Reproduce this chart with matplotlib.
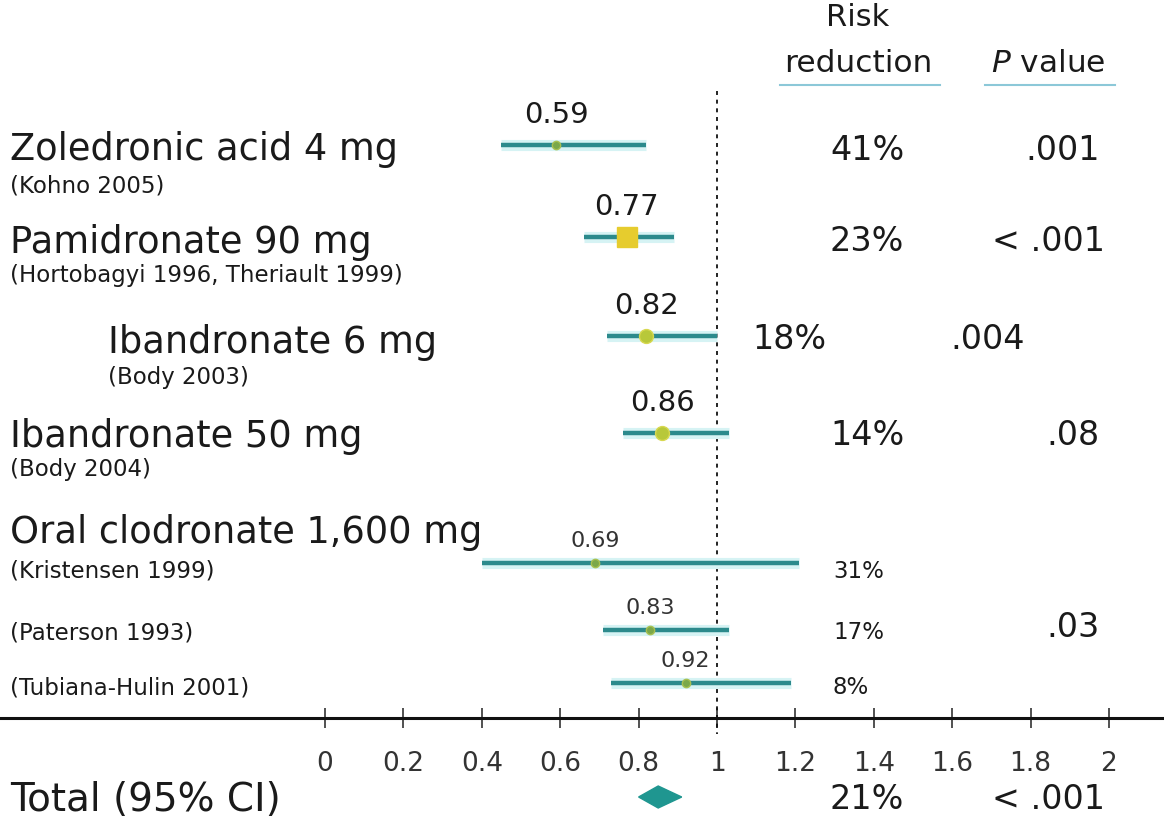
import matplotlib
matplotlib.use("Agg")
import matplotlib.pyplot as plt

plt.rcParams['font.family'] = ['DejaVu Sans']

# study rows
drugs = ["Zoledronic acid 4 mg", "Pamidronate 90 mg", "Ibandronate 6 mg",
         "Ibandronate 50 mg", "Oral clodronate 1,600 mg", "", ""]
refs = ["(Kohno 2005)", "(Hortobagyi 1996, Theriault 1999)", "(Body 2003)",
        "(Body 2004)", "(Kristensen 1999)", "(Paterson 1993)", "(Tubiana-Hulin 2001)"]
estimate = [0.59, 0.77, 0.82, 0.86, 0.69, 0.83, 0.92]
ci_low = [0.45, 0.66, 0.72, 0.76, 0.40, 0.71, 0.73]
ci_high = [0.82, 0.89, 1.00, 1.03, 1.21, 1.03, 1.19]
risk_red = ["41%", "23%", "18%", "14%", "31%", "17%", "8%"]
p_values = [".001", "< .001", ".004", ".08", "", ".03", ""]

total_est = 0.85
total_low = 0.80
total_high = 0.91
total_rr = "21%"
total_p = "< .001"

xticks = [0, 0.2, 0.4, 0.6, 0.8, 1, 1.2, 1.4, 1.6, 1.8, 2]

# layout (pixel rows from top)
row_y = [146, 238, 337, 434, 564, 631, 684]
big_row = [True, True, True, True, False, False, False]
title_dy = [4, 5, 6, 3, -31, 0, 0]
ref_dy = [40, 38, 41, 36, 7, 2, 4]
rr_dy = [4, 4, 3, 2, 8, 2, 4]

teal = "#2c8a8c"
txt = "#1a1a1a"

fig = plt.figure(figsize=(11.64, 8.2), dpi=100)
ax = fig.add_axes([0, 101 / 820, 1, 719 / 820])
ax.set_xlim(-325 / 392, 839 / 392)
ax.set_ylim(719, 0)
for s in ["top", "left", "right"]:
    ax.spines[s].set_visible(False)
ax.spines["bottom"].set_linewidth(2.2)
ax.spines["bottom"].set_color("#111111")
ax.set_yticks([])
ax.set_xticks(xticks)
ax.set_xticklabels([f"{t:g}" for t in xticks])
ax.tick_params(axis="x", direction="inout", length=14, width=1.1,
               pad=16, labelsize=19, labelcolor="#333333", color="#222222")

# reference line at 1
ax.plot([1, 1], [92, 735], color="#111111", lw=1.3, ls=(0, (2.2, 2.6)), clip_on=False)

for i in range(len(estimate)):
    y = row_y[i]
    ax.plot([ci_low[i], ci_high[i]], [y, y], color="#d6f3f4", lw=8,
            solid_capstyle="butt", zorder=2)
    ax.plot([ci_low[i], ci_high[i]], [y, y], color=teal, lw=3.2,
            solid_capstyle="butt", zorder=3)
    if i == 1:
        ax.plot(estimate[i], y, marker="s", ms=15, color="#e6cc2e", mec="#e6cc2e", zorder=4)
    elif i in (2, 3):
        ax.plot(estimate[i], y, marker="o", ms=10, color="#b8c83a", mec="#d8d850", zorder=4)
    else:
        ax.plot(estimate[i], y, marker="o", ms=6, color="#7aa84a", mec="#a8c050", zorder=4)
    if big_row[i]:
        ax.text(estimate[i], y - 17, f"{estimate[i]:.2f}", ha="center", va="bottom",
                fontsize=21, color=txt)
    else:
        ax.text(estimate[i], y - 13, f"{estimate[i]:.2f}", ha="center", va="bottom",
                fontsize=16, color="#333333")

# left labels
label_x = [10, 10, 108, 10, 10, 10, 10]
px = lambda p: (p - 325) / 392
for i in range(len(drugs)):
    x = px(label_x[i])
    y = row_y[i]
    if drugs[i]:
        ax.text(x, y + title_dy[i], drugs[i], ha="left", va="center", fontsize=26.5, color=txt)
    ax.text(x, y + ref_dy[i], refs[i], ha="left", va="center", fontsize=16.5, color=txt)

# risk reduction and p value columns
for i in range(len(risk_red)):
    y = row_y[i]
    if big_row[i]:
        rx = 752 if i == 2 else 830
        ax.text(px(rx), y + rr_dy[i], risk_red[i], ha="left", va="center", fontsize=24, color=txt)
    else:
        ax.text(px(833), y + rr_dy[i], risk_red[i], ha="left", va="center", fontsize=16.5, color=txt)
    if p_values[i]:
        pr = 1025 if i == 2 else (1105 if p_values[i].startswith("<") else 1100)
        py = y + rr_dy[i] if big_row[i] else y - 3
        ax.text(px(pr), py, p_values[i], ha="right", va="center", fontsize=24, color=txt)

# headers
ax.text(px(858), 17, "Risk", ha="center", va="center", fontsize=22, color=txt)
ax.text(px(858), 63, "reduction", ha="center", va="center", fontsize=22.5, color=txt)
ax.text(px(1048), 63, r"$\it{P}$ value", ha="center", va="center", fontsize=22.5, color=txt)
ax.plot([px(780), px(940)], [86, 86], color="#8cc8d8", lw=1.5)
ax.plot([px(985), px(1115)], [86, 86], color="#8cc8d8", lw=1.5)

# total row
ty = 798
ax.fill([total_low, total_est, total_high, total_est], [ty, ty - 11, ty, ty + 11],
        color="#1f9690", clip_on=False, zorder=4)
ax.text(px(10), ty + 2, "Total (95% CI)", ha="left", va="center", fontsize=28,
        color=txt, clip_on=False)
ax.text(px(830), ty + 2, total_rr, ha="left", va="center", fontsize=24, color=txt,
        clip_on=False)
ax.text(px(1105), ty + 2, total_p, ha="right", va="center", fontsize=24, color=txt,
        clip_on=False)

fig.savefig("out.png", dpi=100, facecolor="white")
